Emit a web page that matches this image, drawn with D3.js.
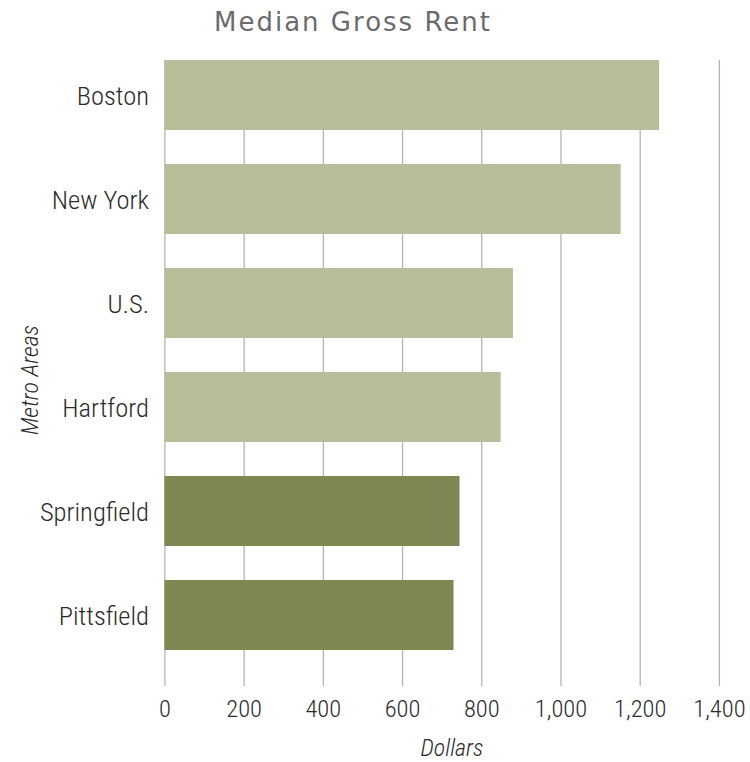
<!DOCTYPE html>
<html>
<head>
<meta charset="utf-8">
<script src="https://cdn.jsdelivr.net/npm/d3@7"></script>
<style>
  body { margin: 0; background: #fff; }
  .lbl { font-family: "Roboto Condensed", "Liberation Sans Narrow", "DejaVu Sans Condensed", sans-serif; font-stretch: condensed; font-weight: 300; fill: #2b2b2b; }
</style>
</head>
<body>
<svg id="chart" width="750" height="762"></svg>
<script>
const areas = ['Boston', 'New York', 'U.S.', 'Hartford', 'Springfield', 'Pittsfield'];
const rents = [1249, 1152, 880, 849, 745, 730];
const highlighted = ['Springfield', 'Pittsfield'];
const xTicks = [0, 200, 400, 600, 800, 1000, 1200, 1400];

const colors = {light: '#b8bd9a', dark: '#7f8853', grid: '#b4b4b4'};

const svg = d3.select('#chart');

const xScale = d3.scaleLinear().domain([0, 1400]).range([164.4, 718.9]);
const yScale = d3.scaleBand().domain(areas).range([43, 667]).paddingInner(0.327).paddingOuter(0.1635);

const gridTop = 60, gridBottom = 686;

// x axis with full-height gridlines
const xAxis = d3
  .axisBottom(xScale)
  .tickValues(xTicks)
  .tickFormat(d3.format(','))
  .tickSize(-(gridBottom - gridTop))
  .tickPadding(14);

const gX = svg
  .append('g')
  .attr('transform', 'translate(0,' + gridBottom + ')')
  .call(xAxis);
gX.select('.domain').remove();
gX.selectAll('.tick line').attr('stroke', colors.grid).attr('stroke-width', 1.3);
gX.selectAll('.tick text').attr('class', 'lbl').style('font-size', '24.5px').attr('fill', '#2b2b2b');

// bars
svg
  .selectAll('.bar')
  .data(areas)
  .enter()
  .append('rect')
  .attr('class', 'bar')
  .attr('x', xScale(0))
  .attr('y', d => yScale(d))
  .attr('width', (d, i) => xScale(rents[i]) - xScale(0))
  .attr('height', yScale.bandwidth())
  .attr('fill', d => (highlighted.includes(d) ? colors.dark : colors.light));

// category labels
svg
  .selectAll('.area_label')
  .data(areas)
  .enter()
  .append('text')
  .attr('class', 'lbl area_label')
  .attr('x', 149)
  .attr('y', d => yScale(d) + yScale.bandwidth() / 2)
  .attr('dy', '0.36em')
  .attr('text-anchor', 'end')
  .style('font-size', '26.5px')
  .text(d => d);

// axis titles
svg
  .append('text')
  .attr('class', 'lbl')
  .attr('transform', 'translate(38,380) rotate(-90)')
  .attr('text-anchor', 'middle')
  .style('font-size', '24px')
  .style('font-style', 'italic')
  .text('Metro Areas');

svg
  .append('text')
  .attr('class', 'lbl')
  .attr('x', 452)
  .attr('y', 756)
  .attr('text-anchor', 'middle')
  .style('font-size', '24px')
  .style('font-style', 'italic')
  .text('Dollars');

// chart title
svg
  .append('text')
  .attr('x', 353)
  .attr('y', 31)
  .attr('text-anchor', 'middle')
  .style('font-family', '"DejaVu Sans", sans-serif')
  .style('font-size', '26px')
  .style('letter-spacing', '2px')
  .attr('fill', '#6b6b6b')
  .text('Median Gross Rent');
</script>
</body>
</html>
